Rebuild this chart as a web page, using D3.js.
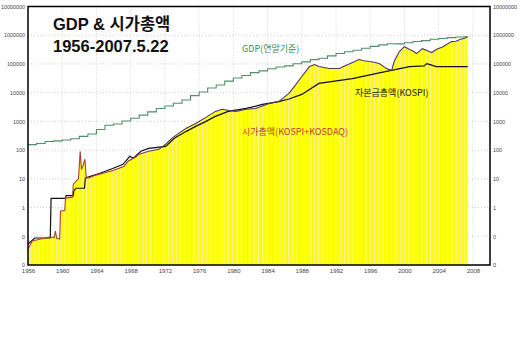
<!DOCTYPE html>
<html><head><meta charset="utf-8">
<script src="https://cdn.jsdelivr.net/npm/d3@7"></script>
<style>
html,body{margin:0;padding:0;background:#fff;}
svg{display:block;}
</style></head>
<body>
<svg id="chart" width="520" height="351"></svg>
<script>
// ---- data ----
const titleLines = ["GDP & 시가총액", "1956-2007.5.22"];
const xTickYears = [1956,1960,1964,1968,1972,1976,1980,1984,1988,1992,1996,2000,2004,2008];
const yTickValues = [0.01,0.1,1,10,100,1000,10000,100000,1000000,10000000];
const yTickLabels = ["0","0","1","10","100","1000","10000","100000","1000000","10000000"];

// GDP (year-end basis, step per year)
const gdpYears = [1956,1957,1958,1959,1960,1961,1962,1963,1964,1965,1966,1967,1968,1969,1970,1971,1972,1973,1974,1975,1976,1977,1978,1979,1980,1981,1982,1983,1984,1985,1986,1987,1988,1989,1990,1991,1992,1993,1994,1995,1996,1997,1998,1999,2000,2001,2002,2003,2004,2005,2006,2007,2007.45];
const gdpValues = [155,170,200,210,225,250,300,365,520,735,810,1035,1280,1650,2150,2800,3440,4270,5530,7900,10500,14500,18600,25200,32400,39700,49700,57300,68100,78600,85700,101000,118000,141000,158000,191000,231000,266000,300000,351000,409000,460000,506000,501000,549000,603000,651000,720000,767000,826000,865000,890000,890000];

// 시가총액 (KOSPI+KOSDAQ)
const capDates = [1956.0,1956.5,1957.5,1958.5,1959.05,1959.2,1959.35,1959.7,1959.8,1960.3,1960.38,1961.2,1961.3,1961.9,1962.1,1962.25,1962.45,1962.65,1962.8,1963.0,1963.8,1964.8,1966.0,1967.2,1967.7,1968.7,1968.9,1970.1,1971.3,1972.1,1972.8,1973.6,1974.5,1975.6,1976.8,1977.9,1978.7,1979.5,1980.3,1981.5,1982.6,1984.2,1985.3,1986.5,1987.3,1988.0,1988.9,1989.5,1990.0,1990.6,1991.2,1992.4,1993.0,1993.6,1994.7,1995.3,1995.9,1996.5,1997.1,1997.9,1998.5,1998.8,1999.4,2000.0,2000.6,2001.0,2001.4,2002.1,2002.9,2003.2,2003.7,2004.5,2005.5,2006.0,2006.5,2007.0,2007.4];
const capValues = [0.036,0.068,0.08,0.094,0.09,0.15,0.085,0.08,0.75,0.8,2.1,2.3,6.5,10,91,21,30,48,12,10.5,13,15.6,20,27,41,61,71,91,107,160,257,382,575,850,1380,2230,2630,2400,2230,2630,2820,4200,4900,9400,19000,36500,81000,95000,81000,75000,69000,69000,85000,102000,142000,130000,121000,115000,102000,69000,59000,121000,270000,400000,316000,280000,230000,340000,270000,250000,316000,400000,600000,620000,710000,780000,890000];

// 자본금총액 (KOSPI)
const paidDates = [1956.0,1956.8,1958.6,1958.7,1960.4,1960.45,1961.3,1961.35,1961.6,1962.6,1962.7,1963.2,1964.4,1965.9,1967.1,1967.9,1968.3,1969.2,1970.1,1972.1,1973.1,1974.5,1975.6,1976.8,1977.9,1979.4,1981.5,1983.4,1985.3,1986.5,1988.0,1990.0,1993.9,1997.9,2000.6,2002.3,2002.6,2003.0,2003.7,2007.4];
const paidValues = [0.054,0.087,0.087,2.1,2.1,2.6,2.6,3.7,4.7,4.7,10.5,12,15.6,23,32,61,52,91,115,135,257,450,670,1000,1490,2230,2820,3890,4900,6000,8700,21000,31000,55000,81000,85000,103000,95000,81000,81000];

// ---- chart ----
const svg = d3.select("#chart");
const L = 28, R = 490, T = 6.5, B = 265;
const x = d3.scaleLinear().domain([1956, 2010]).range([L, R]);
const y = d3.scaleLog().domain([0.01, 1e7]).range([B, T]);

const defs = svg.append("defs");
const pat = defs.append("pattern").attr("id","stripes").attr("patternUnits","userSpaceOnUse")
  .attr("width",4.3).attr("height",10);
pat.append("rect").attr("width",4.3).attr("height",10).attr("fill","#ffff00");
pat.append("rect").attr("x",0).attr("width",0.9).attr("height",10).attr("fill","#f4f4a6");

const grad = defs.append("linearGradient").attr("id","capStroke").attr("gradientUnits","userSpaceOnUse")
  .attr("x1",x(1956)).attr("x2",x(2008)).attr("y1",0).attr("y2",0);
grad.append("stop").attr("offset","0%").attr("stop-color","#b8402a");
grad.append("stop").attr("offset","20%").attr("stop-color","#a03a48");
grad.append("stop").attr("offset","30%").attr("stop-color","#4b3668");
grad.append("stop").attr("offset","100%").attr("stop-color","#4b3668");

// grid
const grid = svg.append("g");
grid.selectAll("line.v").data(xTickYears).join("line")
  .attr("x1",d=>x(d)).attr("x2",d=>x(d)).attr("y1",T).attr("y2",B)
  .attr("stroke","#c4c4c4").attr("stroke-width",0.8).attr("stroke-dasharray","1,2");
grid.selectAll("line.h").data(yTickValues).join("line")
  .attr("x1",L).attr("x2",R).attr("y1",d=>y(d)).attr("y2",d=>y(d))
  .attr("stroke","#c4c4c4").attr("stroke-width",0.8).attr("stroke-dasharray","1,2");

const capData = capDates.map((d,i)=>({t:d,v:capValues[i]}));
const paidData = paidDates.map((d,i)=>({t:d,v:paidValues[i]}));
const gdpData = gdpYears.map((d,i)=>({t:d,v:gdpValues[i]}));

svg.append("path").datum(capData)
  .attr("d", d3.area().x(d=>x(d.t)).y0(B).y1(d=>y(d.v)))
  .attr("fill","url(#stripes)");

svg.append("path").datum(paidData)
  .attr("d", d3.line().x(d=>x(d.t)).y(d=>y(d.v)))
  .attr("fill","none").attr("stroke","#111").attr("stroke-width",1.2);

svg.append("path").datum(capData)
  .attr("d", d3.line().x(d=>x(d.t)).y(d=>y(d.v)))
  .attr("fill","none").attr("stroke","url(#capStroke)").attr("stroke-width",1.1);

svg.append("path").datum(gdpData)
  .attr("d", d3.line().curve(d3.curveStepAfter).x(d=>x(d.t)).y(d=>y(d.v)))
  .attr("fill","none").attr("stroke","#4f8f6a").attr("stroke-width",1.1);

// frame
svg.append("rect").attr("x",L).attr("y",T).attr("width",R-L).attr("height",B-T)
  .attr("fill","none").attr("stroke","#000").attr("stroke-width",1.5);

// axes
const fmt = d => yTickLabels[yTickValues.indexOf(d)];
const axL = svg.append("g").attr("transform",`translate(${L-2},0)`)
  .call(d3.axisLeft(y).tickValues(yTickValues).tickFormat(fmt).tickSize(0).tickPadding(1));
const axR = svg.append("g").attr("transform",`translate(${R+2},0)`)
  .call(d3.axisRight(y).tickValues(yTickValues).tickFormat(fmt).tickSize(0).tickPadding(1));
const axB = svg.append("g").attr("transform",`translate(0,${B+2})`)
  .call(d3.axisBottom(x).tickValues(xTickYears).tickFormat(d3.format("d")).tickSize(0).tickPadding(2));
[axL,axR,axB].forEach(a=>{
  a.select(".domain").remove();
  a.selectAll("text").attr("font-family","Liberation Sans, Arial, sans-serif")
    .attr("font-size","5.4px").attr("fill","#444");
});
axB.selectAll("text").attr("font-size","6px");

// title
svg.selectAll("text.title").data(titleLines).join("text")
  .attr("class","title").attr("x",53).attr("y",(d,i)=>30+i*22)
  .attr("font-family","'Liberation Sans', 'Noto Sans CJK KR', sans-serif").attr("font-weight","bold")
  .attr("font-size","16.5px").attr("fill","#111").text(d=>d);

// series labels
const lab = (t,xx,yy,c)=>svg.append("text").attr("x",xx).attr("y",yy)
  .attr("font-family","'Noto Sans CJK KR', sans-serif").attr("font-size","9px").attr("fill",c).text(t);
lab("GDP(연말기준)",242,52,"#3d8a55");
lab("자본금총액(KOSPI)",355,96,"#111");
lab("시가총액(KOSPI+KOSDAQ)",242,135,"#c03a2a");
</script>
</body></html>
